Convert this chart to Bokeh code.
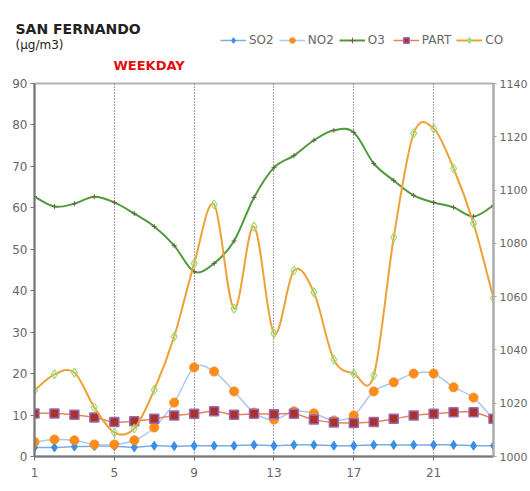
from bokeh.plotting import figure
from bokeh.models import (Range1d, LinearAxis, FixedTicker, Legend, LegendItem,
                          Label)
from bokeh.embed import file_html
from bokeh.resources import INLINE

# ---------------- data ----------------
hours = list(range(1, 25))
x_ticks = [1, 5, 9, 13, 17, 21]
y_ticks = [0, 10, 20, 30, 40, 50, 60, 70, 80, 90]
co_ticks = [1000, 1020, 1040, 1060, 1080, 1100, 1120, 1140]
series_names = ["SO2", "NO2", "O3", "PART", "CO"]

so2 = [2.2, 2.2, 2.4, 2.5, 2.5, 2.2, 2.6, 2.5, 2.6, 2.6, 2.6, 2.8,
       2.6, 2.8, 2.8, 2.6, 2.6, 2.8, 2.8, 2.8, 2.8, 2.8, 2.6, 2.6]
no2 = [3.5, 4.1, 3.9, 2.9, 2.9, 3.9, 7.0, 13.0, 21.5, 20.5, 15.7, 10.6,
       8.9, 10.9, 10.4, 8.7, 9.9, 15.7, 17.9, 20.0, 20.0, 16.7, 14.2, 8.9]
o3 = [62.7, 60.3, 61.0, 62.7, 61.3, 58.6, 55.5, 50.9, 44.6, 46.6, 52.0, 62.5,
      69.7, 72.6, 76.3, 78.7, 78.2, 70.7, 66.6, 63.0, 61.3, 60.1, 57.9, 60.6]
part = [10.4, 10.4, 10.1, 9.4, 8.3, 8.5, 9.1, 9.9, 10.3, 10.9, 10.1, 10.3,
        10.2, 10.3, 8.9, 8.2, 8.1, 8.3, 9.1, 9.9, 10.3, 10.7, 10.7, 9.1]
co = [1024.8, 1030.8, 1031.5, 1018.4, 1009.0, 1010.5, 1025.0, 1045.0, 1072.4,
      1094.6, 1055.5, 1086.3, 1046.2, 1069.8, 1061.6, 1036.4, 1031.1, 1030.4,
      1082.2, 1121.3, 1123.1, 1108.1, 1087.5, 1059.3]

values = {"SO2": so2, "NO2": no2, "O3": o3, "PART": part, "CO": co}

FONT = "DejaVu Sans"

STYLES = {
    "SO2": dict(lc="#79aee8", lw=1.5, m="diamond", fc="#3a8ee6", mc="#3a8ee6", sz=9, mw=1),
    "NO2": dict(lc="#a9c9ee", lw=1.5, m="circle", fc="#ff8c1a", mc="#ff8c1a", sz=9, mw=1),
    "O3": dict(lc="#4f9a3a", lw=2, m="cross", fc=None, mc="#6e5e50", sz=5, mw=1),
    "PART": dict(lc="#e8845c", lw=1.5, m="square", fc="#a8322e", mc="#9b6bb5", sz=9, mw=1.5),
    "CO": dict(lc="#eea236", lw=2, m="diamond", fc=None, mc="#94e07a", sz=9, mw=1.2),
}


def smooth(xs, ys):
    """Bezier control points for an Excel-like smoothed line."""
    n = len(xs)
    d = dict(x0=[], y0=[], x1=[], y1=[], cx0=[], cy0=[], cx1=[], cy1=[])
    for i in range(n - 1):
        a = i - 1 if i > 0 else i
        b = i + 2 if i + 2 < n else i + 1
        d["x0"].append(xs[i]); d["y0"].append(ys[i])
        d["x1"].append(xs[i + 1]); d["y1"].append(ys[i + 1])
        d["cx0"].append(xs[i] + (xs[i + 1] - xs[a]) / 6.0)
        d["cy0"].append(ys[i] + (ys[i + 1] - ys[a]) / 6.0)
        d["cx1"].append(xs[i + 1] - (xs[b] - xs[i]) / 6.0)
        d["cy1"].append(ys[i + 1] - (ys[b] - ys[i]) / 6.0)
    return d


HEAD_H = 76

# ---------------- header (titles + legend) ----------------
h = figure(width=530, height=HEAD_H, output_backend="svg", toolbar_location=None,
           x_range=Range1d(-3, -2), y_range=Range1d(-3, -2),
           x_axis_type=None, y_axis_type=None,
           min_border_left=0, min_border_right=0, min_border_top=0,
           min_border_bottom=0, outline_line_color=None)
h.grid.visible = False

items = []
for name in series_names:
    st = STYLES[name]
    lr = h.line(hours, values[name], line_color=st["lc"], line_width=st["lw"])
    sr = h.scatter(hours, values[name], marker=st["m"],
                   size=max(st["sz"] - 3, 5),
                   fill_color=st["fc"] if st["fc"] else st["mc"],
                   line_color=st["mc"], line_width=st["mw"])
    items.append(LegendItem(label=name, renderers=[lr, sr]))

legend = Legend(items=items, orientation="horizontal",
                location=(220, HEAD_H - 47),
                glyph_width=26, glyph_height=14, label_height=14,
                label_standoff=3, spacing=5, padding=0, margin=0,
                border_line_color=None, background_fill_alpha=0,
                label_text_font=FONT, label_text_font_size="12px",
                label_text_color="#666666")
h.add_layout(legend, "center")

h.add_layout(Label(x=15, y=HEAD_H - 28, x_units="screen", y_units="screen",
                   text="SAN FERNANDO", text_font=FONT, text_font_size="14px",
                   text_font_style="bold", text_color="#222222",
                   text_baseline="middle"))
h.add_layout(Label(x=15, y=HEAD_H - 44, x_units="screen", y_units="screen",
                   text="(µg/m3)", text_font=FONT, text_font_size="12px",
                   text_color="#222222", text_baseline="middle"))
h.add_layout(Label(x=113, y=HEAD_H - 65, x_units="screen", y_units="screen",
                   text="WEEKDAY", text_font=FONT, text_font_size="13px",
                   text_font_style="bold", text_color="#e01010",
                   text_baseline="middle"))

# ---------------- main chart ----------------
p = figure(width=530, height=491 - HEAD_H, output_backend="svg",
           toolbar_location=None,
           x_range=Range1d(1, 24), y_range=Range1d(0, 90),
           min_border_left=34, min_border_right=37, min_border_top=83 - HEAD_H,
           min_border_bottom=35, background_fill_color="white",
           border_fill_color="white")
p.extra_y_ranges = {"co": Range1d(1000, 1140)}

p.outline_line_color = "#b4b4b4"
p.outline_line_width = 2
p.ygrid.visible = False
p.xgrid.ticker = FixedTicker(ticks=[5, 9, 13, 17, 21])
p.xgrid.grid_line_color = "#555555"
p.xgrid.grid_line_dash = "1 2"
p.xgrid.grid_line_width = 1.2

p.xaxis.ticker = FixedTicker(ticks=x_ticks)
p.yaxis.ticker = FixedTicker(ticks=y_ticks)
for ax in (p.xaxis[0], p.yaxis[0]):
    ax.axis_line_color = "#777777"
    ax.axis_line_width = 2
    ax.major_tick_line_color = "#777777"
    ax.major_tick_in = 0
    ax.major_tick_out = 4
    ax.minor_tick_line_color = None
    ax.major_label_text_font = FONT
    ax.major_label_text_font_size = "12px"
    ax.major_label_text_color = "#666666"
    ax.major_label_standoff = 3
p.xaxis[0].major_label_standoff = 7

right = LinearAxis(y_range_name="co", ticker=FixedTicker(ticks=co_ticks))
right.axis_line_color = "#aaaaaa"
right.axis_line_width = 2
right.major_tick_line_color = "#aaaaaa"
right.major_tick_in = 0
right.major_tick_out = 3
right.minor_tick_line_color = None
right.major_label_text_font = FONT
right.major_label_text_font_size = "11px"
right.major_label_text_color = "#666666"
right.major_label_standoff = 3
p.add_layout(right, "right")

for name in series_names:
    st = STYLES[name]
    kw = {"y_range_name": "co"} if name == "CO" else {}
    p.bezier(line_color=st["lc"], line_width=st["lw"],
             **smooth(hours, values[name]), **kw)
    p.scatter(hours, values[name], marker=st["m"], size=st["sz"],
              fill_color=st["fc"], line_color=st["mc"], line_width=st["mw"],
              **kw)

open("out.html", "w").write(file_html([h, p], INLINE))
